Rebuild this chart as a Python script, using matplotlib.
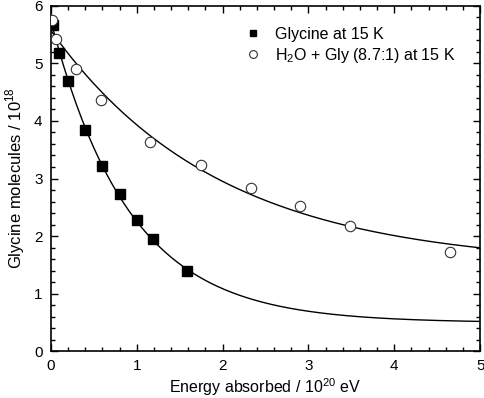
import numpy as np
import matplotlib
matplotlib.use("Agg")
import matplotlib.pyplot as plt
from matplotlib.ticker import MultipleLocator

plt.rcParams['font.family'] = ['Liberation Sans', 'DejaVu Sans']
plt.rcParams['mathtext.fontset'] = 'custom'
plt.rcParams['mathtext.rm'] = 'Liberation Sans'

# Glycine at 15 K
gly_x = [0.02, 0.1, 0.2, 0.4, 0.6, 0.8, 1.0, 1.19, 1.59]
gly_y = [5.67, 5.19, 4.70, 3.84, 3.22, 2.73, 2.27, 1.94, 1.39]

# H2O + Gly (8.7:1) at 15 K
mix_x = [0.01, 0.06, 0.29, 0.58, 1.16, 1.745, 2.33, 2.905, 3.49, 4.65]
mix_y = [5.76, 5.43, 4.90, 4.37, 3.63, 3.23, 2.84, 2.53, 2.17, 1.72]


def expfit(x, y):
    # y = a + b*exp(-x/tau), tau by grid search, a and b by least squares
    x = np.asarray(x); y = np.asarray(y)
    best = None
    for tau in np.linspace(0.2, 10, 2000):
        A = np.column_stack([np.ones_like(x), np.exp(-x / tau)])
        coef, res, _, _ = np.linalg.lstsq(A, y, rcond=None)
        err = np.sum((A @ coef - y) ** 2)
        if best is None or err < best[0]:
            best = (err, coef[0], coef[1], tau)
    return best[1:]


xx = np.linspace(0, 5, 300)

fig = plt.figure(figsize=(4.84, 3.98), dpi=100)
ax = fig.add_axes([0.105, 0.118, 0.887, 0.867])

for x, y in [(gly_x, gly_y), (mix_x, mix_y)]:
    a, b, tau = expfit(x, y)
    ax.plot(xx, a + b * np.exp(-xx / tau), color='black', lw=1.0, zorder=1)

ax.plot(gly_x, gly_y, 's', color='black', ms=6.5, label='Glycine at 15 K', zorder=3)
ax.plot(mix_x, mix_y, 'o', mfc='white', mec='#333333', mew=0.8, ms=7.5,
        label='H$_2$O + Gly (8.7:1) at 15 K', zorder=3)

ax.set_xlim(0, 5)
ax.set_ylim(0, 6)
ax.xaxis.set_major_locator(MultipleLocator(1))
ax.xaxis.set_minor_locator(MultipleLocator(0.2))
ax.yaxis.set_major_locator(MultipleLocator(1))
ax.yaxis.set_minor_locator(MultipleLocator(0.2))
ax.tick_params(which='both', direction='in', top=True, right=True, labelsize=11, width=1)
ax.tick_params(axis='x', pad=6)
ax.tick_params(axis='y', pad=6)
ax.tick_params(which='major', length=5)
ax.tick_params(which='minor', length=3)
for s in ax.spines.values():
    s.set_linewidth(1.2)

ax.set_xlabel('Energy absorbed / 10$^{20}$ eV', fontsize=11.5, labelpad=2)
ax.set_ylabel('Glycine molecules / 10$^{18}$', fontsize=12, labelpad=5)

leg = ax.legend(loc='upper left', bbox_to_anchor=(0.452, 0.94), frameon=False,
                fontsize=11.5, markerscale=0.75, handlelength=1.0, handletextpad=0.9,
                borderpad=0, borderaxespad=0, labelspacing=0.25)

fig.savefig('out.png', dpi=100)
